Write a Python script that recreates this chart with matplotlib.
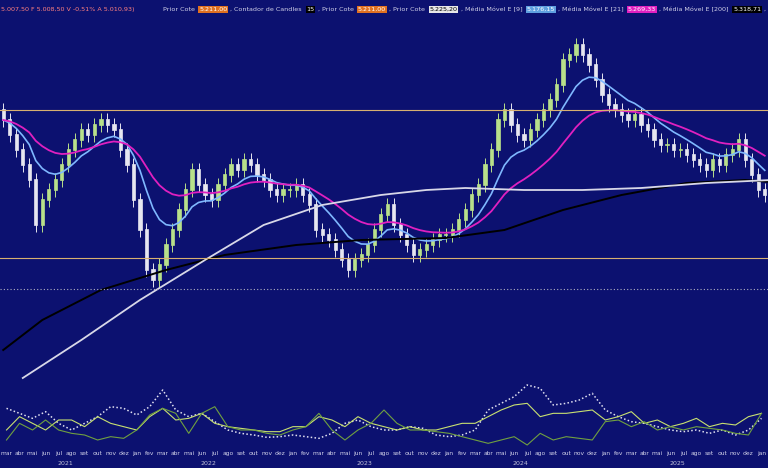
import matplotlib
matplotlib.use("Agg")
import matplotlib.pyplot as plt
import numpy as np
import pandas as pd

months_pt = ["jan","fev","mar","abr","mai","jun","jul","ago","set","out","nov","dez"]
month_labels = (months_pt[2:] + months_pt*4 + ["jan","fev"])[:59]
years = ["2021","2022","2023","2024","2025"]
year_start_month = [0, 10, 22, 34, 46]

closes_y = [120,135,150,165,180,225,200,190,180,165,150,140,130,135,125,120,125,130,150,165,
            200,230,270,280,265,245,230,210,190,170,185,195,200,185,175,165,170,160,165,175,180,190,195,190,
            190,185,195,205,230,235,240,250,260,270,260,255,245,230,215,205,225,235,245,255,250,245,240,235,
            235,230,220,210,195,185,165,150,120,110,125,135,140,130,120,110,100,85,60,55,45,55,65,80,
            95,105,110,115,120,115,125,130,140,145,145,150,150,155,160,165,170,160,165,155,150,140,160,175,190,195]
first_open_y = 110
closes = [400 - v for v in closes_y]

ema200_x = [0, 6, 15, 25, 34, 45, 55, 68, 77, 86, 95, 105, 114, 118]
ema200_v = [50, 80, 110, 130, 145, 155, 160, 162, 170, 190, 205, 217, 220, 218]
sma200_x = [3, 12, 21, 31, 40, 49, 58, 65, 71, 80, 89, 98, 108, 118]
sma200_v = [22, 60, 100, 140, 175, 195, 205, 210, 212, 210, 210, 212, 217, 220]

ind_dotted = [85,100,115,95,130,150,130,110,80,85,105,80,30,90,110,100,125,150,160,165,172,170,
              165,170,175,160,130,120,140,150,150,140,145,165,170,165,150,90,70,50,15,25,75,70,60,40,
              90,110,125,130,140,150,155,150,160,150,165,150,115]
ind_yellow = [150,110,130,150,120,120,140,110,130,140,150,110,85,120,115,100,130,140,145,150,155,155,
              140,140,110,120,140,110,130,140,150,140,150,150,140,130,130,110,90,75,70,110,100,100,95,90,
              120,110,95,130,120,140,130,115,140,130,135,110,100]
ind_green = [180,130,150,120,150,160,165,180,170,175,150,105,85,100,160,100,80,140,150,150,160,165,
             150,140,100,150,180,150,130,90,130,150,150,155,160,170,180,190,180,170,195,160,180,170,175,180,
             125,120,140,125,150,140,150,140,145,150,160,165,100]

bg = "#0c1170"
fig = plt.figure(figsize=(7.68, 4.68), dpi=100, facecolor=bg)
ax = fig.add_axes([0, 1 - 380/468, 1, 360/468], facecolor=bg)
n = len(closes)
opens = [400 - first_open_y] + closes[:-1]
xs = np.arange(n)
for i in range(n):
    o, c = opens[i], closes[i]
    col = "#b8e08a" if c >= o else "#e6e6f0"
    ax.vlines(i, min(o, c) - 7, max(o, c) + 7, color=col, lw=0.7)
    ax.bar(i, abs(c - o) + 1, bottom=min(o, c), width=0.5, color=col, edgecolor=col, lw=0.5)

s = pd.Series(closes, dtype=float)
ema9 = s.ewm(span=9, adjust=False).mean()
ema21 = s.ewm(span=21, adjust=False).mean()
ax.plot(xs, ema9, color="#7fb8ff", lw=1.2)
ax.plot(xs, ema21, color="#e020c0", lw=1.3)
ax.plot(ema200_x, ema200_v, color="#000000", lw=1.4)
ax.plot(sma200_x, sma200_v, color="#d8d8e8", lw=1.3)
ax.axhline(400 - 110, color="#d8b070", lw=0.8)
ax.axhline(400 - 258, color="#d8b070", lw=0.8)
ax.axhline(400 - 289, color="#b0b0c0", lw=0.8, ls=(0, (1, 2)))
ax.set_xlim(-0.5, n - 0.5)
ax.set_ylim(20, 380)
ax.axis("off")

fs = 4.6
fig.text(0.001, 0.985, "5.007,50 F 5.008,50 V -0,51% A 5.010,93)", color="#ff8080", fontsize=fs, va="top")
t = [("Prior Cote ", "5.211,00", "#e07020", "white"), (", Contador de Candles ", "15", "#000000", "white"),
     (", Prior Cote ", "5.211,00", "#e07020", "white"), (", Prior Cote ", "5.225,20", "#e8e8e8", "black"),
     (", Média Móvel E [9] ", "5.176,15", "#5fa0e0", "white"), (", Média Móvel E [21] ", "5.269,33", "#e020c0", "white"),
     (", Média Móvel E [200] ", "5.318,71", "#000000", "white"), (", Média Móvel A [2", "", None, None)]
renderer = fig.canvas.get_renderer()
x = 0.212
W = fig.bbox.width
for lab, val, bcol, tcol in t:
    tx = fig.text(x, 0.985, lab, color="#d0d0e8", fontsize=fs, va="top")
    x = tx.get_window_extent(renderer).x1 / W + 0.001
    if val:
        tv = fig.text(x + 0.002, 0.985, val, color=tcol, fontsize=fs, va="top",
                      bbox=dict(boxstyle="square,pad=0.12", fc=bcol, ec="none"))
        x = tv.get_window_extent(renderer).x1 / W + 0.004

ax2 = fig.add_axes([0, 1 - 450/468, 1, 70/468], facecolor=bg)
mx = np.arange(len(ind_dotted)) * 2 + 0.5
ax2.plot(mx, ind_dotted, color="#e0e0f0", lw=1.1, ls=(0, (1, 1.5)))
ax2.plot(mx, ind_yellow, color="#c8e070", lw=0.8)
ax2.plot(mx, ind_green, color="#70a040", lw=0.8)
ax2.set_xlim(-0.5, n - 0.5)
ax2.set_ylim(210, 0)
ax2.set_xticks(np.arange(len(month_labels)) * 2 + 0.5)
ax2.set_xticklabels(month_labels, color="#d0d0e8", fontsize=4.3)
ax2.tick_params(length=0, pad=1)
ax2.set_yticks([])
for sp in ax2.spines.values():
    sp.set_visible(False)

ax3 = fig.add_axes([0, 0, 1, 9/468], facecolor="#252a80")
bounds = [-0.5] + [m * 2 - 0.5 for m in year_start_month[1:]] + [n - 2.5]
for i, yl in enumerate(years):
    ax3.axvline(bounds[i], color="#0c1170", lw=1.5)
    ax3.text((bounds[i] + bounds[i + 1]) / 2, 0.5, yl,
             color="#c0c0d8", fontsize=4.5, ha="center", va="center")
ax3.axvline(bounds[-1], color="#0c1170", lw=1.5)
ax3.set_xlim(-0.5, n - 0.5)
ax3.set_ylim(0, 1)
ax3.axis("off")

fig.savefig("out.png", dpi=100, facecolor=bg)
